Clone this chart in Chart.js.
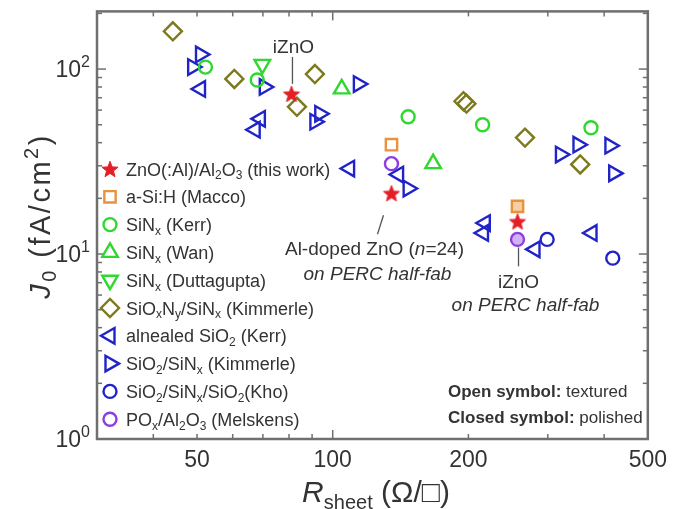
<!DOCTYPE html>
<html>
<head>
<meta charset="utf-8">
<script src="https://cdn.jsdelivr.net/npm/chart.js@4.4.0/dist/chart.umd.min.js"></script>
<style>
  html, body { margin: 0; padding: 0; background: #fff; }
  #wrap { width: 675px; height: 509px; position: relative; }
</style>
</head>
<body>
<div id="wrap"><canvas id="j0Chart" width="675" height="509"></canvas></div>
<script>
// Sheet resistance (ohm/sq) vs. J0 (fA/cm2) for each passivation scheme
const znoR = [81, 135, 257];
const znoJ = [73.4, 21.3, 15.0];
const maccoR = [135, 257];
const maccoJ = [39, 18.1];
const kerrSinR = [52.2, 68, 147, 215, 374];
const kerrSinJ = [102.5, 87.3, 55.2, 50, 48.2];
const wanR = [104.7, 167];
const wanJ = [78.1, 30.8];
const duttaR = [69.8];
const duttaJ = [106];
const sioxnyR = [44.2, 60.5, 91.3, 83.3, 195, 198, 267, 354];
const sioxnyJ = [160, 88.4, 94, 62.5, 67, 65, 42.6, 30.5];
const annealR = [50.9, 69.1, 67.3, 109, 140, 218, 216, 281, 376];
const annealJ = [78.1, 53.8, 47, 29, 26.9, 14.7, 13, 10.6, 13];
const kimmR = [50.9, 48.9, 70.5, 114, 93.6, 91.3, 147, 320, 350, 412, 420];
const kimmJ = [120, 102.5, 80, 83, 57.3, 51.9, 22.6, 34.5, 39, 38.5, 27.3];
const khoR = [299, 418];
const khoJ = [12, 9.5];
const melskR = [135, 257];
const melskJ = [30.8, 12];

const xTicks = [50, 100, 200, 500];
const yTicks = [1, 10, 100];

const FAM = '"Liberation Sans", Arial, Helvetica, sans-serif';
const TXT = '#333333';
const RED = '#e41e26';
const ORANGE = '#e8923c';
const GREEN = '#2fd82f';
const OLIVE = '#7d7a1e';
const BLUE = '#2024c8';
const PURPLE = '#8b3fe0';
const NOFILL = 'rgba(255,255,255,0)';

// filled five-point star used as point style for this work
const starImg = (() => {
  const c = document.createElement('canvas');
  c.width = 20; c.height = 20;
  const g = c.getContext('2d');
  g.beginPath();
  for (let i = 0; i < 10; i++) {
    const r = i % 2 === 0 ? 8.5 : 3.6;
    const a = -Math.PI / 2 + i * Math.PI / 5;
    const px = 10 + r * Math.cos(a), py = 10.8 + r * Math.sin(a);
    if (i === 0) g.moveTo(px, py); else g.lineTo(px, py);
  }
  g.closePath();
  g.fillStyle = RED; g.fill();
  g.strokeStyle = RED; g.lineWidth = 1; g.stroke();
  return c;
})();

function pts(xs, ys) {
  return xs.map((x, i) => ({ x: x, y: ys[i] }));
}

function ds(label, xs, ys, style, color, radius, extra) {
  return Object.assign({
    label: label,
    data: pts(xs, ys),
    pointStyle: style,
    pointRotation: 0,
    pointRadius: radius,
    pointBorderWidth: 2.4,
    borderColor: color,
    backgroundColor: NOFILL,
    showLine: false
  }, extra || {});
}

const datasets = [
  ds('ZnO(:Al)/Al_{2}O_{3} (this work)', znoR, znoJ, starImg, RED, 9),
  ds('a-Si:H (Macco)', maccoR, maccoJ, 'rect', ORANGE, 8,
     { backgroundColor: [NOFILL, 'rgba(232,146,60,0.45)'] }),
  ds('SiN_{x} (Kerr)', kerrSinR, kerrSinJ, 'circle', GREEN, 6.5),
  ds('SiN_{x} (Wan)', wanR, wanJ, 'triangle', GREEN, 9),
  ds('SiN_{x} (Duttagupta)', duttaR, duttaJ, 'triangle', GREEN, 9, { pointRotation: 180 }),
  ds('SiO_{x}N_{y}/SiN_{x} (Kimmerle)', sioxnyR, sioxnyJ, 'rectRot', OLIVE, 9),
  ds('alnealed SiO_{2} (Kerr)', annealR, annealJ, 'triangle', BLUE, 9, { pointRotation: 270 }),
  ds('SiO_{2}/SiN_{x} (Kimmerle)', kimmR, kimmJ, 'triangle', BLUE, 9, { pointRotation: 90 }),
  ds('SiO_{2}/SiN_{x}/SiO_{2}(Kho)', khoR, khoJ, 'circle', BLUE, 6.5),
  ds('PO_{x}/Al_{2}O_{3} (Melskens)', melskR, melskJ, 'circle', PURPLE, 6.5,
     { backgroundColor: [NOFILL, 'rgba(139,63,224,0.4)'] })
];

// tiny markup: _{sub} ^{sup} *{italic} !{bold}
function parseRich(str) {
  const segs = [];
  let i = 0, buf = '';
  while (i < str.length) {
    const two = str.substr(i, 2);
    if (two === '_{' || two === '^{' || two === '*{' || two === '!{') {
      if (buf) { segs.push({ t: buf, k: 'n' }); buf = ''; }
      const end = str.indexOf('}', i);
      segs.push({ t: str.slice(i + 2, end), k: two[0] });
      i = end + 1;
    } else {
      buf += str[i];
      i++;
    }
  }
  if (buf) segs.push({ t: buf, k: 'n' });
  return segs;
}

function segFont(k, size) {
  if (k === '_' || k === '^') return Math.round(size * 0.68) + 'px ' + FAM;
  if (k === '*') return 'italic ' + size + 'px ' + FAM;
  if (k === '!') return 'bold ' + size + 'px ' + FAM;
  return size + 'px ' + FAM;
}

function drawRich(ctx, str, x, y, size, align, color, spacing) {
  const segs = parseRich(str);
  ctx.save();
  ctx.fillStyle = color || TXT;
  ctx.textBaseline = 'alphabetic';
  ctx.textAlign = 'left';
  if (spacing) ctx.letterSpacing = spacing + 'px';
  let w = 0;
  segs.forEach(s => {
    ctx.font = segFont(s.k, size);
    s.w = ctx.measureText(s.t).width;
    w += s.w;
  });
  let cx = align === 'center' ? x - w / 2 : align === 'right' ? x - w : x;
  segs.forEach(s => {
    ctx.font = segFont(s.k, size);
    const dy = s.k === '_' ? size * 0.22 : s.k === '^' ? -size * 0.42 : 0;
    ctx.fillText(s.t, cx, y + dy);
    cx += s.w;
  });
  ctx.restore();
  return w;
}

function seg(ctx, x1, y1, x2, y2) {
  ctx.beginPath();
  ctx.moveTo(x1, y1);
  ctx.lineTo(x2, y2);
  ctx.stroke();
}

// box frame with inward ticks on all four sides
const framePlugin = {
  id: 'frame',
  beforeDatasetsDraw(chart) {
    const { ctx, chartArea: a, scales } = chart;
    const xs = scales.x, ys = scales.y;
    ctx.save();
    ctx.strokeStyle = '#6f6f6f';
    ctx.lineWidth = 1.5;
    for (let d = 1; d <= 100; d *= 10) {
      for (let m = 1; m < 10; m++) {
        const v = d * m;
        if (v > ys.max) continue;
        const py = ys.getPixelForValue(v);
        const len = m === 1 ? 9 : 5;
        seg(ctx, a.left, py, a.left + len, py);
        seg(ctx, a.right, py, a.right - len, py);
      }
    }
    for (let d = 10; d <= 100; d *= 10) {
      for (let m = 1; m < 10; m++) {
        const v = d * m;
        if (v < xs.min || v > xs.max) continue;
        const px = xs.getPixelForValue(v);
        const len = v === 100 ? 9 : 5;
        seg(ctx, px, a.bottom, px, a.bottom - len);
        seg(ctx, px, a.top, px, a.top + len);
      }
    }
    ctx.lineWidth = 2.5;
    ctx.strokeRect(a.left, a.top, a.right - a.left, a.bottom - a.top);
    ctx.restore();
  }
};

// legend, annotations and axis titles
const textPlugin = {
  id: 'texts',
  afterDraw(chart) {
    const { ctx, scales } = chart;
    const xs = scales.x, ys = scales.y;
    const helpers = Chart.helpers;

    // y tick labels with exponents
    yTicks.forEach((v, i) => {
      const py = ys.getPixelForValue(v);
      drawRich(ctx, '10^{' + i + '}', 90, py + 8, 23, 'right', TXT);
    });

    // axis titles
    ctx.save();
    ctx.translate(40, 216);
    ctx.rotate(-Math.PI / 2);
    drawRich(ctx, '*{J}_{0} (fA/cm^{2})', 0, 10, 29, 'center', TXT, 2.5);
    ctx.restore();
    drawRich(ctx, '*{R}_{sheet} (\u03A9/\u25A1)', 376, 502, 30, 'center', TXT);

    // legend
    const lx = 110, tx = 126, ly0 = 169, dy = 27.8;
    datasets.forEach((d, i) => {
      const py = ly0 + i * dy;
      ctx.save();
      ctx.strokeStyle = d.borderColor;
      ctx.fillStyle = '#ffffff';
      ctx.lineWidth = d.pointBorderWidth;
      helpers.drawPoint(ctx, {
        pointStyle: d.pointStyle,
        rotation: d.pointRotation,
        radius: d.pointRadius,
        borderWidth: d.pointBorderWidth
      }, lx, py);
      ctx.restore();
      drawRich(ctx, d.label, tx, py + 6.5, 18, 'left', TXT);
    });

    // annotations anchored on the ZnO points
    ctx.save();
    ctx.strokeStyle = '#555555';
    ctx.lineWidth = 1.3;
    const p0x = xs.getPixelForValue(znoR[0]), p0y = ys.getPixelForValue(znoJ[0]);
    seg(ctx, p0x + 1, p0y - 10, p0x + 1, p0y - 37);
    const p1x = xs.getPixelForValue(znoR[1]), p1y = ys.getPixelForValue(znoJ[1]);
    seg(ctx, p1x - 8, p1y + 22, p1x - 14, p1y + 41);
    const p2x = xs.getPixelForValue(melskR[1]), p2y = ys.getPixelForValue(melskJ[1]);
    seg(ctx, p2x + 1, p2y + 8, p2x + 1, p2y + 27);
    ctx.restore();

    drawRich(ctx, 'iZnO', p0x + 2, p0y - 41, 19, 'center', TXT);
    drawRich(ctx, 'Al-doped ZnO (*{n}=24)', p1x - 17, p1y + 62, 19, 'center', TXT);
    drawRich(ctx, '*{on PERC half-fab}', p1x - 14, p1y + 87, 19, 'center', TXT);
    drawRich(ctx, 'iZnO', p2x + 1, p2y + 49, 19, 'center', TXT);
    drawRich(ctx, '*{on PERC half-fab}', p2x + 8, p2y + 72, 19, 'center', TXT);

    drawRich(ctx, '!{Open symbol:} textured', 448, 397, 17, 'left', TXT);
    drawRich(ctx, '!{Closed symbol:} polished', 448, 423, 17, 'left', TXT);
  }
};

const ctx = document.getElementById('j0Chart').getContext('2d');
const myChart = new Chart(ctx, {
  type: 'scatter',
  data: { datasets: datasets },
  options: {
    responsive: false,
    animation: false,
    layout: { padding: { top: 8, right: 22, left: 0, bottom: 0 } },
    plugins: {
      legend: { display: false },
      tooltip: { enabled: false }
    },
    scales: {
      x: {
        type: 'logarithmic',
        min: 30,
        max: 500,
        afterBuildTicks: s => { s.ticks = xTicks.map(v => ({ value: v })); },
        afterFit: s => { s.height = 70; },
        ticks: {
          autoSkip: false,
          maxRotation: 0,
          padding: 8,
          color: TXT,
          font: { family: FAM, size: 23 },
          callback: v => String(v)
        },
        grid: { display: false, drawTicks: false },
        border: { display: false }
      },
      y: {
        type: 'logarithmic',
        min: 1,
        max: 205,
        afterBuildTicks: s => { s.ticks = yTicks.map(v => ({ value: v })); },
        afterFit: s => { s.width = 97; },
        ticks: { callback: () => '' },
        grid: { display: false, drawTicks: false },
        border: { display: false }
      }
    }
  },
  plugins: [framePlugin, textPlugin]
});
</script>
</body>
</html>
